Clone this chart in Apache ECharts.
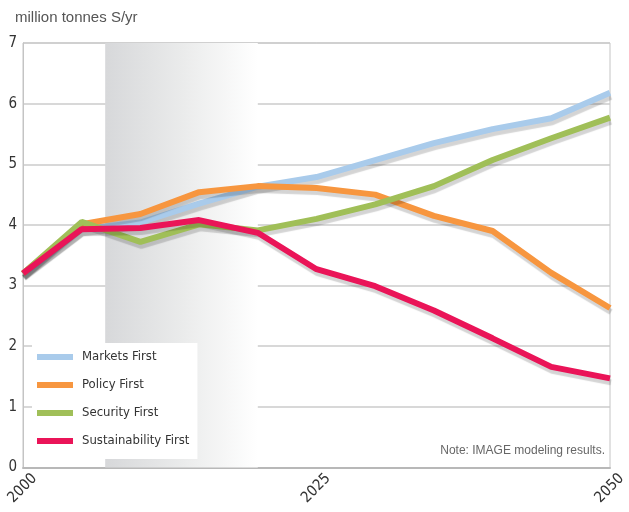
<!DOCTYPE html>
<html>
<head>
<meta charset="utf-8">
<script src="https://cdn.jsdelivr.net/npm/echarts@6/dist/echarts.min.js"></script>
<style>html,body{margin:0;padding:0;background:#fff}#c{width:629px;height:512px}</style>
</head>
<body>
<div id="c"></div>
<script>
const years = [2000, 2005, 2010, 2015, 2020, 2025, 2030, 2035, 2040, 2045, 2050];
const seriesNames = ['Markets First', 'Policy First', 'Security First', 'Sustainability First'];
const marketsFirst = [3.19, 3.93, 4.04, 4.35, 4.63, 4.79, 5.07, 5.35, 5.58, 5.76, 6.18];
const policyFirst = [3.2, 4.01, 4.18, 4.54, 4.64, 4.61, 4.5, 4.15, 3.9, 3.21, 2.63];
const securityFirst = [3.2, 4.05, 3.72, 4.01, 3.91, 4.1, 4.34, 4.64, 5.07, 5.43, 5.77];
const sustainabilityFirst = [3.2, 3.93, 3.95, 4.08, 3.87, 3.27, 2.99, 2.59, 2.13, 1.66, 1.47];
const xTicks = [2000, 2025, 2050];
const yTicks = [0, 1, 2, 3, 4, 5, 6, 7];
const shadeStart = 2007, shadeEnd = 2020;
const titleText = 'million tonnes S/yr';
const noteText = 'Note: IMAGE modeling results.';

const colors = ['#a9cbeb', '#f7963f', '#a0bf58', '#ea1458'];
const valueSets = [marketsFirst, policyFirst, securityFirst, sustainabilityFirst];
const narrow = "'DejaVu Sans Condensed','Liberation Sans Narrow',sans-serif";

const chart = echarts.init(document.getElementById('c'), null, {renderer: 'canvas'});
const series = valueSets.map((vals, i) => ({
  name: seriesNames[i],
  type: 'line',
  data: years.map((y, k) => [y, vals[k]]),
  symbol: 'none',
  z: 3 + i,
  lineStyle: {
    color: colors[i], width: 6,
    shadowColor: 'rgba(0,0,0,0.17)', shadowBlur: 1, shadowOffsetX: 1, shadowOffsetY: 4
  },
  itemStyle: {color: colors[i]},
  emphasis: {disabled: true}
}));
series[0].markArea = {
  silent: true,
  z: 1,
  itemStyle: {
    color: new echarts.graphic.LinearGradient(0, 0, 1, 0, [
      {offset: 0, color: '#d7d8da'}, {offset: 0.5, color: '#eaebeb'}, {offset: 1, color: '#ffffff'}
    ])
  },
  data: [[{xAxis: shadeStart}, {xAxis: shadeEnd}]]
};

chart.setOption({
  animation: false,
  grid: {left: 23, top: 43, right: 19, bottom: 44.5, containLabel: false, outerBoundsMode: 'none',
         show: true, borderColor: '#c4c4c4', borderWidth: 1},
  title: {
    text: titleText, left: 10, top: 5,
    textStyle: {fontFamily: "'Liberation Sans',sans-serif", fontSize: 15, fontWeight: 'normal', color: '#555'}
  },
  graphic: [{
    type: 'text', right: 24, top: 445,
    style: {text: noteText, fontFamily: "'Liberation Sans',sans-serif", fontSize: 12, fill: '#666'}
  }],
  legend: {
    orient: 'vertical', left: 32, top: 343,
    padding: [6, 8, 10, 5],
    backgroundColor: '#ffffff',
    itemWidth: 36, itemHeight: 6, itemGap: 12, icon: 'rect',
    data: seriesNames,
    textStyle: {fontFamily: narrow, fontSize: 13, color: '#333', lineHeight: 16, padding: [0, 0, 0, 4]}
  },
  xAxis: {
    type: 'value', min: 2000, max: 2050, interval: 25,
    axisLine: {show: true, lineStyle: {color: '#b8b8b8', width: 2}},
    axisTick: {show: false},
    splitLine: {show: false},
    axisLabel: {
      rotate: 45, margin: -3, verticalAlign: 'top', padding: [9, 0, 0, 0],
      fontFamily: narrow, fontSize: 15, color: '#333',
      formatter: v => xTicks.includes(v) ? String(v) : ''
    }
  },
  yAxis: {
    type: 'value', min: 0, max: 7, interval: 1,
    axisLine: {show: true, lineStyle: {color: '#c4c4c4', width: 1}},
    axisTick: {show: false},
    splitLine: {show: true, lineStyle: {color: '#cbcbcb', width: 1.5}},
    axisLabel: {
      margin: 6, fontFamily: narrow, fontSize: 15, color: '#333',
      formatter: v => yTicks.includes(v) ? String(v) : ''
    }
  },
  series: series
});
</script>
</body>
</html>
